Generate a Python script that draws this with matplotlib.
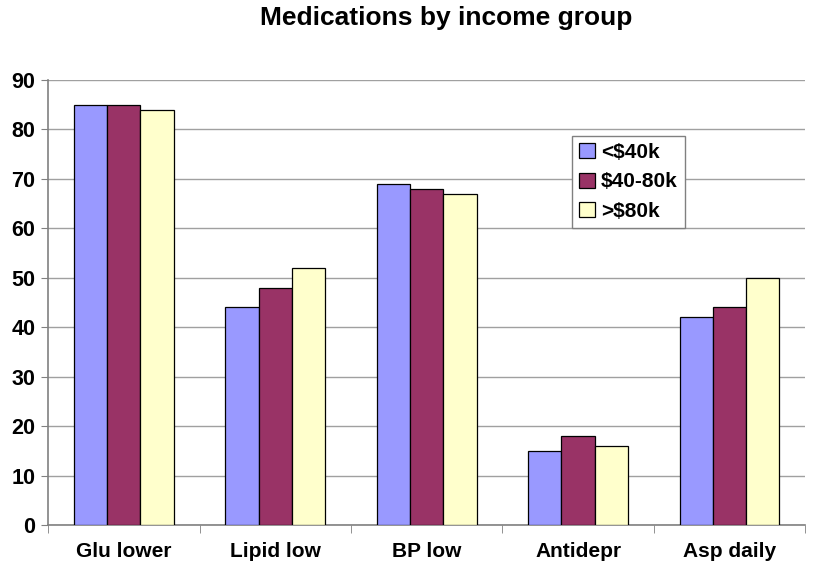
import matplotlib.pyplot as plt
import numpy as np

# data
categories = ['Glu lower', 'Lipid low', 'BP low', 'Antidepr', 'Asp daily']
groups = ['<$40k', '$40-80k', '>$80k']
low_income = [85, 44, 69, 15, 42]
mid_income = [85, 48, 68, 18, 44]
high_income = [84, 52, 67, 16, 50]
colors = ['#9999FF', '#993366', '#FFFFCC']

plt.rcParams['font.family'] = ['Liberation Sans', 'DejaVu Sans']
plt.rcParams['font.weight'] = 'bold'

fig = plt.figure(figsize=(8.15, 5.79), dpi=100)
ax = fig.add_axes([0.059, 0.093, 0.929, 0.769])

x = np.arange(len(categories))
w = 0.22
for i, (vals, lab) in enumerate(zip([low_income, mid_income, high_income], groups)):
    ax.bar(x + (i - 1) * w, vals, w, color=colors[i], edgecolor='black',
           linewidth=0.9, label=lab, zorder=3)

ax.set_xlim(-0.5, len(categories) - 0.5)
ax.set_ylim(0, 90)
ax.set_yticks(range(0, 91, 10))
ax.set_xticks(x)
ax.set_xticklabels(categories)
ax.set_xticks(np.arange(-0.5, len(categories), 1), minor=True)
ax.tick_params(axis='x', which='major', length=0, pad=12, labelsize=15)
ax.tick_params(axis='x', which='minor', length=6, color='#808080')
ax.tick_params(axis='y', length=5, color='#808080', labelsize=15.5, pad=4)
ax.grid(axis='y', color='#A0A0A0', linewidth=1, zorder=0)

for s in ['top', 'right']:
    ax.spines[s].set_visible(False)
for s in ['left', 'bottom']:
    ax.spines[s].set_color('#808080')
    ax.spines[s].set_linewidth(1.2)

ax.legend(loc='upper left', bbox_to_anchor=(0.678, 0.898), fancybox=False,
          edgecolor='#808080', framealpha=1, fontsize=15, handlelength=0.75,
          handleheight=0.75, handletextpad=0.3, borderpad=0.35, labelspacing=0.5)

fig.suptitle('Medications by income group', fontsize=19, fontweight='bold',
             x=0.547, y=0.99)

fig.savefig('out.png', dpi=100)
